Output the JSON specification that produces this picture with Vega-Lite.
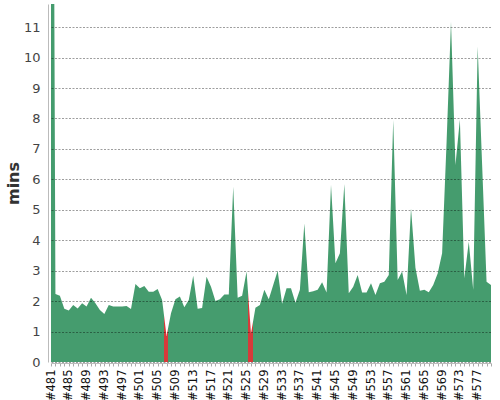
{
  "$schema": "https://vega.github.io/schema/vega-lite/v6.json",
  "width": 440,
  "height": 358,
  "autosize": "none",
  "padding": {"left": 51, "top": 4, "right": 9, "bottom": 38},
  "data": {
    "values": [
      {"build": "#481", "mins": 40},
      {"build": "#482", "mins": 2.23},
      {"build": "#483", "mins": 2.18},
      {"build": "#484", "mins": 1.75},
      {"build": "#485", "mins": 1.69},
      {"build": "#486", "mins": 1.87},
      {"build": "#487", "mins": 1.76},
      {"build": "#488", "mins": 1.93},
      {"build": "#489", "mins": 1.82},
      {"build": "#490", "mins": 2.11},
      {"build": "#491", "mins": 1.93},
      {"build": "#492", "mins": 1.71},
      {"build": "#493", "mins": 1.58},
      {"build": "#494", "mins": 1.87},
      {"build": "#495", "mins": 1.82},
      {"build": "#496", "mins": 1.82},
      {"build": "#497", "mins": 1.82},
      {"build": "#498", "mins": 1.84},
      {"build": "#499", "mins": 1.74},
      {"build": "#500", "mins": 2.56},
      {"build": "#501", "mins": 2.42},
      {"build": "#502", "mins": 2.5},
      {"build": "#503", "mins": 2.31},
      {"build": "#504", "mins": 2.31},
      {"build": "#505", "mins": 2.4},
      {"build": "#506", "mins": 2.04},
      {"build": "#507", "mins": 0.85},
      {"build": "#508", "mins": 1.6},
      {"build": "#509", "mins": 2.06},
      {"build": "#510", "mins": 2.15},
      {"build": "#511", "mins": 1.8},
      {"build": "#512", "mins": 2.04},
      {"build": "#513", "mins": 2.83},
      {"build": "#514", "mins": 1.75},
      {"build": "#515", "mins": 1.77},
      {"build": "#516", "mins": 2.8},
      {"build": "#517", "mins": 2.47},
      {"build": "#518", "mins": 2.0},
      {"build": "#519", "mins": 2.06},
      {"build": "#520", "mins": 2.22},
      {"build": "#521", "mins": 2.22},
      {"build": "#522", "mins": 5.76},
      {"build": "#523", "mins": 2.11},
      {"build": "#524", "mins": 2.18},
      {"build": "#525", "mins": 2.97},
      {"build": "#526", "mins": 0.94},
      {"build": "#527", "mins": 1.78},
      {"build": "#528", "mins": 1.87},
      {"build": "#529", "mins": 2.37},
      {"build": "#530", "mins": 2.06},
      {"build": "#531", "mins": 2.53},
      {"build": "#532", "mins": 3.0},
      {"build": "#533", "mins": 1.91},
      {"build": "#534", "mins": 2.42},
      {"build": "#535", "mins": 2.42},
      {"build": "#536", "mins": 1.95},
      {"build": "#537", "mins": 2.37},
      {"build": "#538", "mins": 4.55},
      {"build": "#539", "mins": 2.29},
      {"build": "#540", "mins": 2.32},
      {"build": "#541", "mins": 2.37},
      {"build": "#542", "mins": 2.62},
      {"build": "#543", "mins": 2.28},
      {"build": "#544", "mins": 5.82},
      {"build": "#545", "mins": 3.24},
      {"build": "#546", "mins": 3.57},
      {"build": "#547", "mins": 5.85},
      {"build": "#548", "mins": 2.26},
      {"build": "#549", "mins": 2.47},
      {"build": "#550", "mins": 2.86},
      {"build": "#551", "mins": 2.28},
      {"build": "#552", "mins": 2.28},
      {"build": "#553", "mins": 2.59},
      {"build": "#554", "mins": 2.2},
      {"build": "#555", "mins": 2.59},
      {"build": "#556", "mins": 2.64},
      {"build": "#557", "mins": 2.86},
      {"build": "#558", "mins": 7.95},
      {"build": "#559", "mins": 2.69},
      {"build": "#560", "mins": 2.97},
      {"build": "#561", "mins": 2.2},
      {"build": "#562", "mins": 5.05},
      {"build": "#563", "mins": 3.1},
      {"build": "#564", "mins": 2.34},
      {"build": "#565", "mins": 2.37},
      {"build": "#566", "mins": 2.29},
      {"build": "#567", "mins": 2.53},
      {"build": "#568", "mins": 2.91},
      {"build": "#569", "mins": 3.57},
      {"build": "#570", "mins": 7.2},
      {"build": "#571", "mins": 11.18},
      {"build": "#572", "mins": 6.47},
      {"build": "#573", "mins": 7.97},
      {"build": "#574", "mins": 2.75},
      {"build": "#575", "mins": 3.95},
      {"build": "#576", "mins": 2.37},
      {"build": "#577", "mins": 10.36},
      {"build": "#578", "mins": 6.5},
      {"build": "#579", "mins": 2.64},
      {"build": "#580", "mins": 2.53}
    ]
  },
  "mark": {
    "type": "area",
    "clip": true,
    "fill": {
      "gradient": "linear",
      "x1": 0, "y1": 0, "x2": 1, "y2": 0,
      "stops": [
        {"offset": 0, "color": "#459c6e"},
        {"offset": 0.257, "color": "#459c6e"},
        {"offset": 0.257, "color": "#d63a3a"},
        {"offset": 0.2659, "color": "#d63a3a"},
        {"offset": 0.2659, "color": "#459c6e"},
        {"offset": 0.447, "color": "#459c6e"},
        {"offset": 0.447, "color": "#d63a3a"},
        {"offset": 0.4584, "color": "#d63a3a"},
        {"offset": 0.4584, "color": "#459c6e"},
        {"offset": 1, "color": "#459c6e"}
      ]
    }
  },
  "encoding": {
    "x": {
      "field": "build",
      "type": "ordinal",
      "sort": null,
      "scale": {"type": "point", "padding": 0},
      "axis": {
        "title": null,
        "labelAngle": -90,
        "labelExpr": "(parseInt(substring(datum.value, 1)) - 481) % 4 == 0 ? datum.value : ''",
        "labelOverlap": false,
        "labelFont": "DejaVu Sans",
        "labelFontSize": 11.5,
        "labelColor": "#111",
        "labelPadding": 3,
        "tickSize": 3,
        "tickColor": "#aaa",
        "domainColor": "#bbb",
        "offset": 1,
        "grid": false
      }
    },
    "y": {
      "field": "mins",
      "type": "quantitative",
      "scale": {"domain": [0, 11.76], "nice": false},
      "axis": {
        "title": "mins",
        "values": [0, 1, 2, 3, 4, 5, 6, 7, 8, 9, 10, 11],
        "grid": true,
        "gridDash": [2, 1.5],
        "gridColor": "#000",
        "gridOpacity": 0.38,
        "ticks": false,
        "domainColor": "#bbb",
        "offset": 3,
        "labelFont": "DejaVu Sans",
        "labelFontSize": 13,
        "labelColor": "#444",
        "labelPadding": 8,
        "titleFont": "DejaVu Sans",
        "titleFontSize": 16,
        "titleFontWeight": "bold",
        "titleColor": "#333",
        "titlePadding": 2,
        "zindex": 1
      }
    }
  },
  "config": {"view": {"stroke": null}}
}
